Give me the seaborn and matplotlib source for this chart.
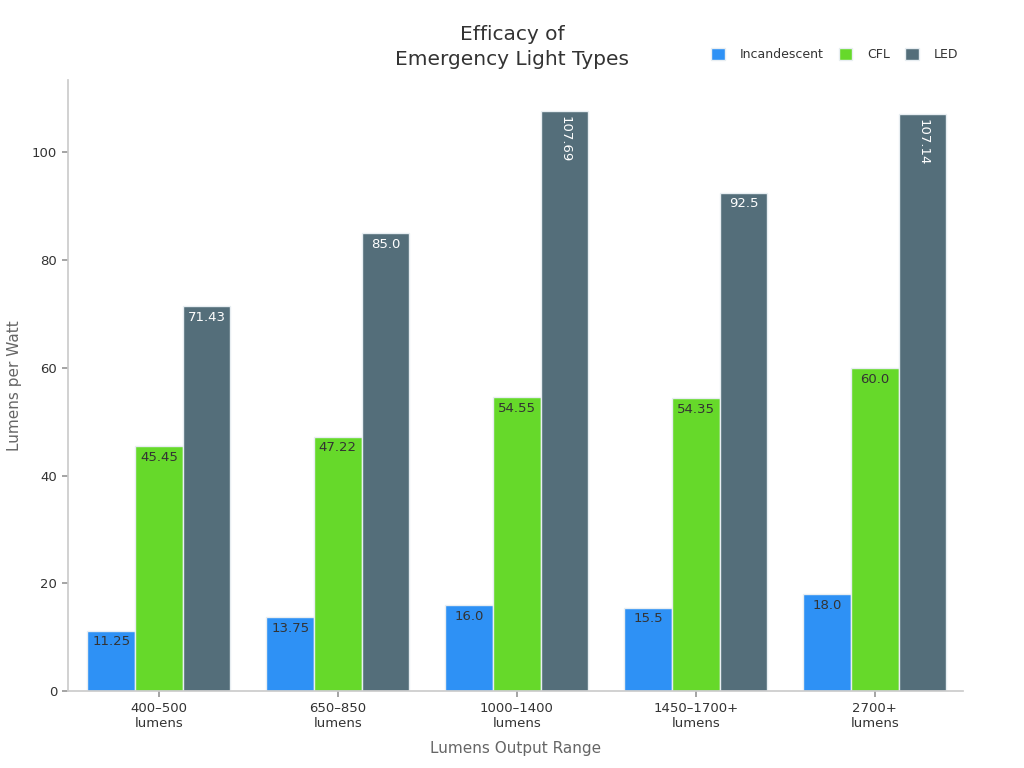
import matplotlib
matplotlib.use("Agg")
import matplotlib.pyplot as plt
import seaborn as sns
import pandas as pd

# data
ranges = ["400–500\nlumens", "650–850\nlumens", "1000–1400\nlumens",
          "1450–1700+\nlumens", "2700+\nlumens"]
light_types = ["Incandescent", "CFL", "LED"]
incandescent = [11.25, 13.75, 16.0, 15.5, 18.0]
cfl = [45.45, 47.22, 54.55, 54.35, 60.0]
led = [71.43, 85.0, 107.69, 92.5, 107.14]

colors = ["#2E91F5", "#66D92A", "#546E7A"]
label_colors = ["#333333", "#333333", "white"]

rows = []
for name, vals in zip(light_types, [incandescent, cfl, led]):
    for r, v in zip(ranges, vals):
        rows.append({"range": r, "type": name, "value": v})
df = pd.DataFrame(rows)

sns.set_theme(style="white")
plt.rcParams['font.family'] = ['DejaVu Sans']

fig = plt.figure(figsize=(10.24, 7.68), dpi=100)
ax = fig.add_axes([0.066, 0.100, 0.874, 0.796])

sns.barplot(data=df, x="range", y="value", hue="type", hue_order=light_types,
            palette=colors, width=0.8, edgecolor="#e8eef2", linewidth=1,
            saturation=1, ax=ax, legend=True)

# value labels inside the top of each bar
for cont, lc in zip(ax.containers, label_colors):
    for bar in cont:
        h = bar.get_height()
        txt = f"{h:g}" if h != int(h) else f"{h:.1f}"
        x = bar.get_x() + bar.get_width() / 2
        if len(txt) > 5:
            ax.text(x, h - 1.0, txt, ha="center", va="top", rotation=270,
                    color=lc, fontsize=9.5)
        else:
            ax.text(x, h - 0.9, txt, ha="center", va="top",
                    color=lc, fontsize=9.5)

ax.set_ylim(0, 113.4)
ax.set_xlim(-0.51, 4.49)
ax.set_yticks([0, 20, 40, 60, 80, 100])
ax.tick_params(axis="both", length=4, color="#999999", labelsize=9.5,
               labelcolor="#333333", left=True, bottom=True)
for s in ["top", "right"]:
    ax.spines[s].set_visible(False)
for s in ["left", "bottom"]:
    ax.spines[s].set_color("#cccccc")

ax.set_xlabel("Lumens Output Range", fontsize=11, color="#666666", labelpad=8)
ax.set_ylabel("Lumens per Watt", fontsize=11, color="#666666", labelpad=7)

fig.suptitle("Efficacy of\nEmergency Light Types", x=0.5, y=0.968,
             fontsize=14.5, color="#333333", linespacing=1.45)

ax.legend(loc="upper right", bbox_to_anchor=(1.008, 1.071), ncol=3,
          frameon=False, fontsize=9, handlelength=1.1, handleheight=1.1,
          columnspacing=1.2, handletextpad=1.2, labelcolor="#333333")

fig.savefig("out.png", dpi=100)
